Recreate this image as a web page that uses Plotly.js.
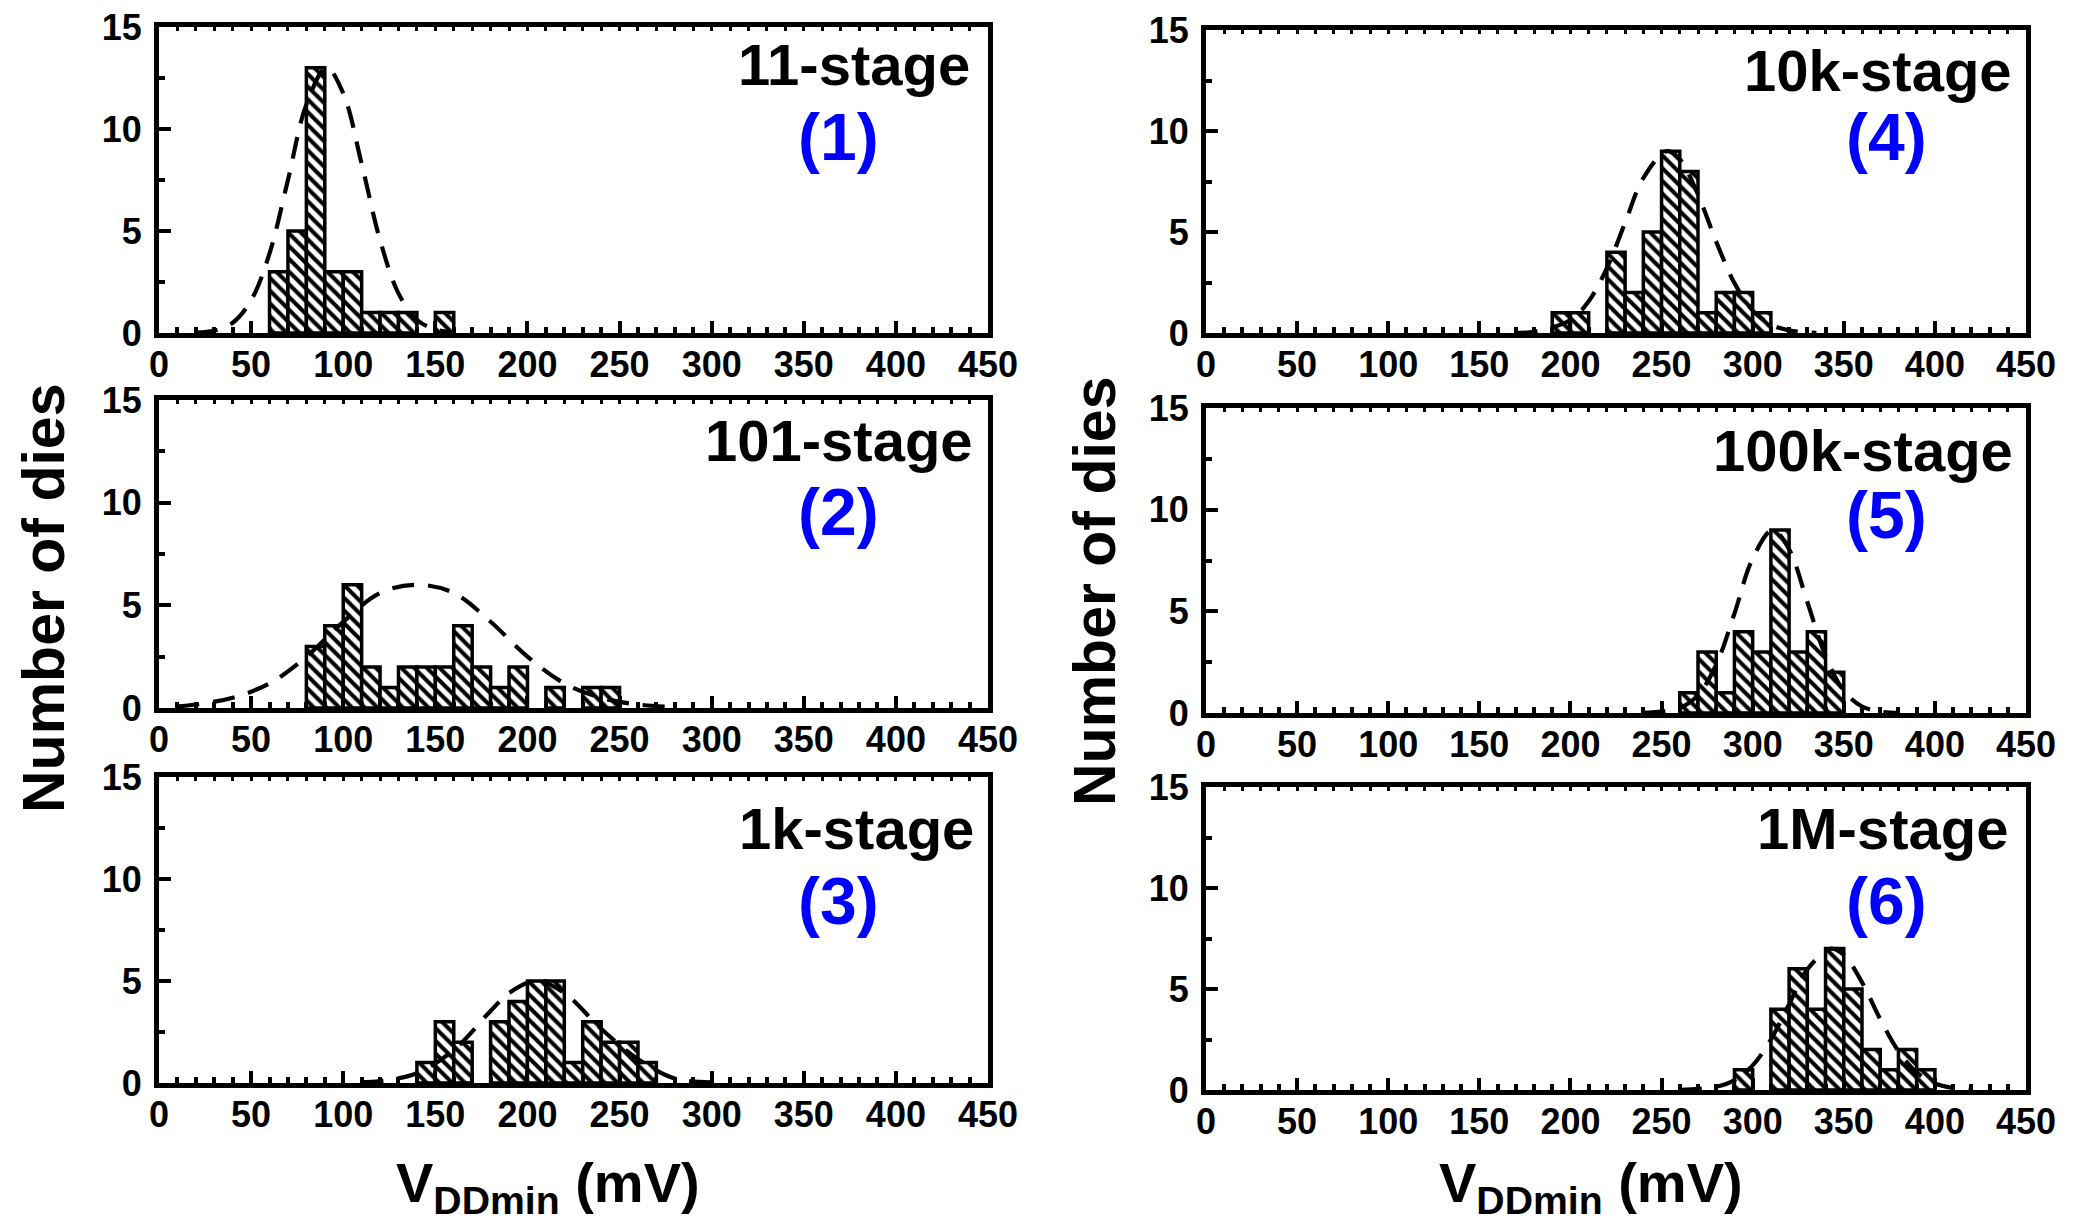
<!DOCTYPE html>
<html>
<head>
<meta charset="utf-8">
<script src="https://cdn.plot.ly/plotly-3.0.1.min.js"></script>
<style>html,body{margin:0;padding:0;background:#fff;} #chart{width:2078px;height:1232px;}</style>
</head>
<body>
<div id="chart"></div>
<script>
// ---------------- DATA ----------------
// Histogram bins: left edge of each 10 mV bin, and number of dies
const bins1 = [60, 70, 80, 90, 100, 110, 120, 130, 150];
const counts1 = [3, 5, 13, 3, 3, 1, 1, 1, 1];
const bins2 = [80, 90, 100, 110, 120, 130, 140, 150, 160, 170, 180, 190, 210, 230, 240];
const counts2 = [3, 4, 6, 2, 1, 2, 2, 2, 4, 2, 1, 2, 1, 1, 1];
const bins3 = [140, 150, 160, 180, 190, 200, 210, 220, 230, 240, 250, 260];
const counts3 = [1, 3, 2, 3, 4, 5, 5, 1, 3, 2, 2, 1];
const bins4 = [190, 200, 220, 230, 240, 250, 260, 270, 280, 290, 300];
const counts4 = [1, 1, 4, 2, 5, 9, 8, 1, 2, 2, 1];
const bins5 = [260, 270, 280, 290, 300, 310, 320, 330, 340];
const counts5 = [1, 3, 1, 4, 3, 9, 3, 4, 2];
const bins6 = [290, 310, 320, 330, 340, 350, 360, 370, 380, 390];
const counts6 = [1, 4, 6, 4, 7, 5, 2, 1, 2, 1];

// Dashed distribution curves
const fitX1 = [20, 30, 40, 50, 60, 70, 80, 91, 100, 110, 120, 130, 140, 150, 160];
const fitY1 = [0.02, 0.12, 0.5, 1.6, 3.9, 7.5, 11.2, 13, 11.75, 8.3, 4.55, 1.94, 0.65, 0.17, 0.03];
const fitX2 = [10, 20, 40, 60, 80, 100, 120, 140, 160, 180, 200, 220, 240, 260, 280];
const fitY2 = [0.08, 0.17, 0.5, 1.2, 2.5, 4.2, 5.6, 6.0, 5.6, 4.2, 2.5, 1.2, 0.5, 0.17, 0.05];
const fitX3 = [110, 120, 140, 160, 180, 190, 205, 220, 240, 260, 280, 300];
const fitY3 = [0.03, 0.09, 0.48, 1.62, 3.53, 4.41, 5.0, 4.41, 2.66, 1.17, 0.22, 0.03];
const fitX4 = [170, 180, 200, 210, 220, 230, 240, 253, 260, 270, 280, 290, 300, 310, 320, 335];
const fitY4 = [0.01, 0.06, 0.64, 1.57, 3.21, 5.46, 7.67, 9, 8.6, 6.85, 4.52, 2.47, 1.11, 0.42, 0.13, 0.01];
const fitX5 = [240, 260, 270, 280, 290, 300, 311, 320, 330, 340, 350, 360, 370, 380];
const fitY5 = [0.01, 0.25, 0.88, 2.38, 4.89, 7.6, 9, 8.05, 5.46, 2.81, 1.1, 0.32, 0.07, 0.01];
const fitX6 = [260, 280, 290, 300, 310, 320, 330, 343, 350, 360, 370, 380, 390, 400, 410, 420];
const fitY6 = [0.01, 0.16, 0.49, 1.22, 2.5, 4.25, 5.97, 7, 6.69, 5.33, 3.51, 1.92, 0.87, 0.32, 0.1, 0.02];

const stageLabels = ['11-stage', '101-stage', '1k-stage', '10k-stage', '100k-stage', '1M-stage'];
const panelNumbers = ['(1)', '(2)', '(3)', '(4)', '(5)', '(6)'];
const xTickVals = [0, 50, 100, 150, 200, 250, 300, 350, 400, 450];
const yTickVals = [0, 5, 10, 15];
const yTitle = 'Number of dies';
const xTitle = 'V<sub>DDmin</sub> (mV)';

// ---------------- LAYOUT (pixel geometry) ----------------
const W = 2078, H = 1232;
const binsAll = [bins1, bins2, bins3, bins4, bins5, bins6];
const countsAll = [counts1, counts2, counts3, counts4, counts5, counts6];
const fitXAll = [fitX1, fitX2, fitX3, fitX4, fitX5, fitX6];
const fitYAll = [fitY1, fitY2, fitY3, fitY4, fitY5, fitY6];

// [left, right, top, bottom] in px
const boxes = [
  [159, 988, 27, 333],
  [159, 988, 400, 708],
  [159, 988, 777, 1083],
  [1206, 2026, 30, 333],
  [1206, 2026, 408, 713],
  [1206, 2026, 787, 1090]
];
// stage label: right edge x, centre y ; number label: centre x, centre y
const stagePos = [[972, 64], [975, 441], [976, 828], [2014, 71], [2015, 450], [2010, 828]];
const numPos = [[838, 137], [838, 512], [838, 901], [1886, 137], [1886, 515], [1886, 901]];

const FONT = 'Liberation Sans, Arial, Helvetica, sans-serif';
const traces = [];
const layout = {
  width: W, height: H,
  margin: {l: 0, r: 0, t: 0, b: 0, pad: 0},
  paper_bgcolor: 'white', plot_bgcolor: 'white',
  showlegend: false,
  bargap: 0,
  annotations: []
};

for (let i = 0; i < 6; i++) {
  const n = i + 1;
  const xa = n === 1 ? 'x' : 'x' + n;
  const ya = n === 1 ? 'y' : 'y' + n;
  const b = boxes[i];
  traces.push({
    type: 'bar', x: binsAll[i], y: countsAll[i], width: 10, offset: 0,
    xaxis: xa, yaxis: ya,
    marker: {
      color: 'white',
      line: {color: 'black', width: 3.5},
      pattern: {shape: '\\', fgcolor: 'black', bgcolor: 'white', size: 9, solidity: 0.45, fillmode: 'replace'}
    },
    hoverinfo: 'skip'
  });
  traces.push({
    type: 'scatter', mode: 'lines', x: fitXAll[i], y: fitYAll[i],
    xaxis: xa, yaxis: ya,
    line: {color: 'black', width: 4.2, dash: '22px,14px', shape: 'spline', smoothing: 1},
    cliponaxis: true, hoverinfo: 'skip'
  });
  const xKey = n === 1 ? 'xaxis' : 'xaxis' + n;
  const yKey = n === 1 ? 'yaxis' : 'yaxis' + n;
  const tickFont = {family: FONT, size: 36, color: 'black', weight: 'bold'};
  layout[xKey] = {
    domain: [b[0] / W, b[1] / W], anchor: ya, range: [0, 450],
    tickmode: 'array', tickvals: xTickVals, ticktext: xTickVals.map(String),
    ticks: 'inside', ticklen: 12, tickwidth: 4, tickcolor: 'black',
    minor: {dtick: 10, tick0: 0, ticks: 'inside', ticklen: 6, tickwidth: 4, tickcolor: 'black', showgrid: false},
    showline: true, linewidth: 5, linecolor: 'black', mirror: true,
    showgrid: false, zeroline: false, tickfont: tickFont, ticklabelstandoff: -4,
    fixedrange: true
  };
  layout[yKey] = {
    domain: [1 - b[3] / H, 1 - b[2] / H], anchor: xa, range: [0, 15],
    tickmode: 'array', tickvals: yTickVals, ticktext: yTickVals.map(String),
    ticks: 'inside', ticklen: 12, tickwidth: 4, tickcolor: 'black',
    minor: {dtick: 2.5, tick0: 0, ticks: 'inside', ticklen: 6, tickwidth: 4, tickcolor: 'black', showgrid: false},
    showline: true, linewidth: 5, linecolor: 'black', mirror: true,
    showgrid: false, zeroline: false, tickfont: tickFont, ticklabelstandoff: 5,
    fixedrange: true
  };
  // Small ticks along the top edge
  const tn = n + 6;
  layout['xaxis' + tn] = {
    domain: [b[0] / W, b[1] / W], anchor: ya, overlaying: xa, side: 'top', range: [0, 450],
    tickmode: 'linear', tick0: 0, dtick: 10, ticks: 'inside', ticklen: 4, tickwidth: 3, tickcolor: 'black',
    showticklabels: false, showline: false, showgrid: false, zeroline: false, fixedrange: true
  };
  traces.push({type: 'scatter', mode: 'markers', x: [null], y: [null], xaxis: 'x' + tn, yaxis: ya, hoverinfo: 'skip', showlegend: false});

  layout.annotations.push({
    xref: 'paper', yref: 'paper', x: stagePos[i][0] / W, y: 1 - stagePos[i][1] / H,
    xanchor: 'right', yanchor: 'middle', showarrow: false, text: stageLabels[i],
    font: {family: FONT, size: 58, color: 'black', weight: 'bold'}
  });
  layout.annotations.push({
    xref: 'paper', yref: 'paper', x: numPos[i][0] / W, y: 1 - numPos[i][1] / H,
    xanchor: 'center', yanchor: 'middle', showarrow: false, text: panelNumbers[i],
    font: {family: FONT, size: 66, color: '#0000ff', weight: 'bold'}
  });
}

// Axis titles
[[44, 599], [1095, 592]].forEach(p => layout.annotations.push({
  xref: 'paper', yref: 'paper', x: p[0] / W, y: 1 - p[1] / H, xanchor: 'center', yanchor: 'middle',
  textangle: -90, showarrow: false, text: yTitle,
  font: {family: FONT, size: 59, color: 'black', weight: 'bold'}
}));
[[548, 1186], [1591, 1186]].forEach(p => layout.annotations.push({
  xref: 'paper', yref: 'paper', x: p[0] / W, y: 1 - p[1] / H, xanchor: 'center', yanchor: 'middle',
  showarrow: false, text: xTitle,
  font: {family: FONT, size: 56, color: 'black', weight: 'bold'}
}));

Plotly.newPlot('chart', traces, layout, {staticPlot: true, displayModeBar: false});
</script>
</body>
</html>
